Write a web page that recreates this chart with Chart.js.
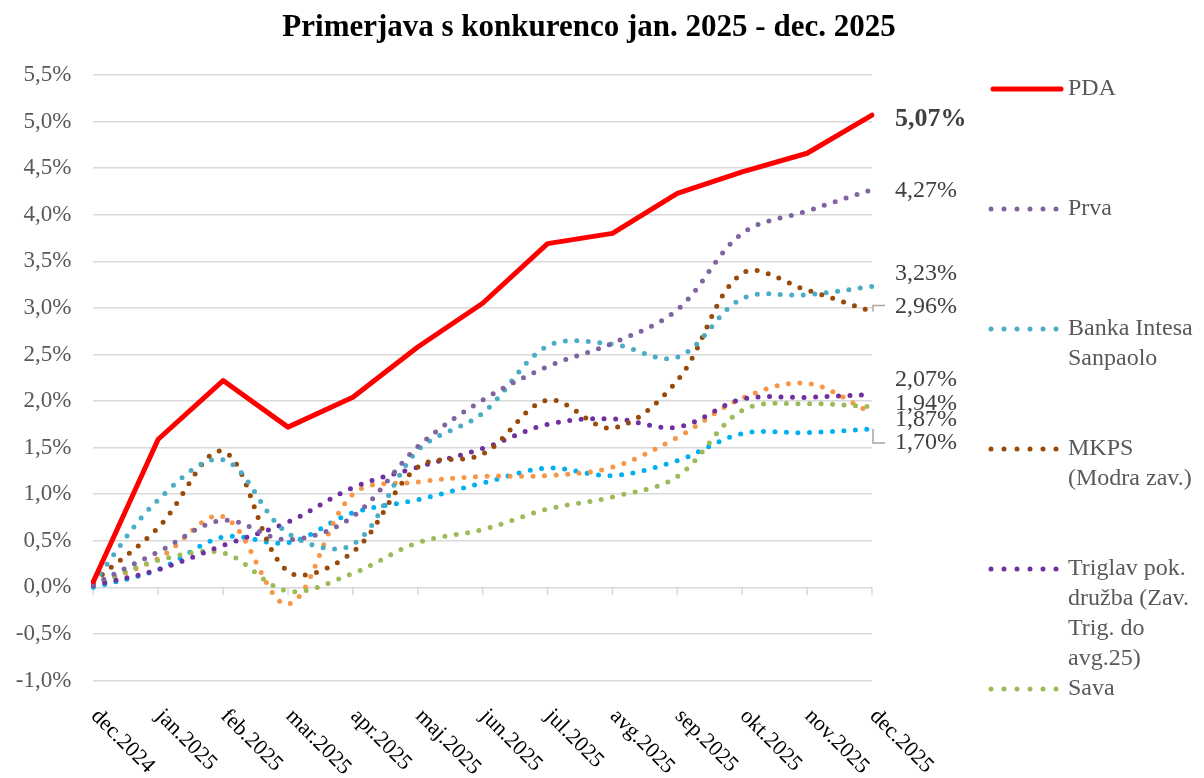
<!DOCTYPE html>
<html>
<head>
<meta charset="utf-8">
<script src="https://cdn.jsdelivr.net/npm/chart.js@4"></script>
<style>
  body { margin: 0; background: #fff; }
  #wrap { width: 1204px; height: 778px; position: relative; }
</style>
</head>
<body>
<div id="wrap"><canvas id="chart"></canvas></div>
<script>
// meseci na osi x
const months = ['dec.2024', 'jan.2025', 'feb.2025', 'mar.2025', 'apr.2025', 'maj.2025', 'jun.2025',
  'jul.2025', 'avg.2025', 'sep.2025', 'okt.2025', 'nov.2025', 'dec.2025'];

// donosi v % (odčitano z grafa)
const pda     = [0.06, 1.59, 2.22, 1.72, 2.04, 2.58, 3.05, 3.69, 3.80, 4.23, 4.46, 4.66, 5.07];
const prva    = [0.03, 0.38, 0.72, 0.51, 0.76, 1.51, 2.01, 2.37, 2.62, 2.98, 3.80, 4.04, 4.27];
const intesa  = [0.05, 0.94, 1.37, 0.58, 0.46, 1.47, 1.87, 2.59, 2.61, 2.47, 3.10, 3.14, 3.23];
const mkps    = [0.06, 0.64, 1.46, 0.17, 0.38, 1.29, 1.43, 2.01, 1.71, 2.22, 3.37, 3.19, 2.96];
const triglav = [0.02, 0.19, 0.45, 0.70, 1.07, 1.29, 1.49, 1.75, 1.81, 1.72, 2.02, 2.04, 2.07];
const sava    = [0.02, 0.29, 0.37, -0.04, 0.15, 0.48, 0.62, 0.84, 0.97, 1.19, 1.90, 1.97, 1.94];
const orange  = [0.02, 0.31, 0.76, -0.18, 1.00, 1.13, 1.19, 1.20, 1.29, 1.61, 2.03, 2.19, 1.87];
const cyan    = [0.00, 0.19, 0.54, 0.48, 0.80, 0.94, 1.12, 1.28, 1.20, 1.36, 1.65, 1.66, 1.70];

const yTicks = { min: -1, max: 5.5, step: 0.5 };

const serif = '"Liberation Serif", "DejaVu Serif", serif';
const fmt = (v, d) => v.toFixed(d).replace('.', ',') + '%';

const dotted = (label, data, color, legendLines) => ({
  label, data, legendLines,
  borderColor: color, backgroundColor: color,
  borderWidth: 5, borderDash: [0, 11.5], borderCapStyle: 'round',
  tension: 0.35, pointRadius: 0, fill: false
});

const datasets = [
  { label: 'PDA', data: pda, legendLines: ['PDA'], borderColor: '#FF0000', backgroundColor: '#FF0000',
    borderWidth: 5, borderCapStyle: 'round', borderJoinStyle: 'round', tension: 0, pointRadius: 0, fill: false },
  dotted('Prva', prva, '#8064A2', ['Prva']),
  dotted('Banka Intesa Sanpaolo', intesa, '#4BACC6', ['Banka Intesa', 'Sanpaolo']),
  dotted('MKPS (Modra zav.)', mkps, '#9A4A08', ['MKPS', '(Modra zav.)']),
  dotted('Triglav pok. družba (Zav. Trig. do avg.25)', triglav, '#7030A0', ['Triglav pok.', 'družba (Zav.', 'Trig. do', 'avg.25)']),
  dotted('Sava', sava, '#9BBB59', ['Sava']),
  dotted('', orange, '#F79646', null),
  dotted('', cyan, '#00B0F0', null)
];

// zamiki oznak končnih vrednosti (v px) po vrstnem redu serij
const endLabelShift = [4, 1, -13, -5, -15, -3, 7, 14];

const decorPlugin = {
  id: 'decor',
  beforeDatasetsDraw(chart) {
    const { ctx, scales: { x, y } } = chart;
    const y0 = y.getPixelForValue(0);
    ctx.save();
    ctx.strokeStyle = '#D9D9D9';
    ctx.lineWidth = 1.5;
    ctx.beginPath();
    months.forEach((m, i) => {
      const px = x.getPixelForValue(i);
      ctx.moveTo(px, y0);
      ctx.lineTo(px, y0 + 8);
    });
    ctx.stroke();
    ctx.restore();
  },
  afterDraw(chart) {
    const { ctx, chartArea, scales: { x, y } } = chart;
    ctx.save();

    // naslov
    ctx.fillStyle = '#000';
    ctx.font = 'bold 31px ' + serif;
    ctx.textAlign = 'center';
    ctx.textBaseline = 'alphabetic';
    ctx.fillText('Primerjava s konkurenco jan. 2025 - dec. 2025', 589, 36);

    // oznake osi x, zasukane za 45°
    ctx.font = '22px ' + serif;
    ctx.textAlign = 'left';
    ctx.textBaseline = 'middle';
    months.forEach((m, i) => {
      const px = x.getPixelForValue(i);
      ctx.save();
      ctx.translate(px + 1, 713);
      ctx.rotate(Math.PI / 4);
      ctx.fillText(m, 0, 0);
      ctx.restore();
    });

    // končne vrednosti
    const last = months.length - 1;
    const xr = x.getPixelForValue(last);
    chart.data.datasets.forEach((ds, i) => {
      const v = ds.data[last];
      const py = y.getPixelForValue(v);
      ctx.font = (i === 0 ? 'bold 26px ' : '24px ') + serif;
      ctx.fillStyle = '#404040';
      ctx.textAlign = 'left';
      ctx.fillText(fmt(v, 2), xr + 23, py + endLabelShift[i]);
    });
    // vodilne črte
    ctx.strokeStyle = '#A6A6A6';
    ctx.lineWidth = 1.5;
    ctx.beginPath();
    let py = y.getPixelForValue(mkps[last]);
    ctx.moveTo(xr + 1, py);
    ctx.lineTo(xr + 1, py - 6);
    ctx.lineTo(xr + 13, py - 6);
    py = y.getPixelForValue(cyan[last]);
    ctx.moveTo(xr + 1, py);
    ctx.lineTo(xr + 1, py + 14);
    ctx.lineTo(xr + 13, py + 14);
    ctx.stroke();

    // legenda
    const lx = chartArea.right + 119;
    let row = 0;
    chart.data.datasets.forEach((ds) => {
      if (!ds.legendLines) return;
      const ly = 89 + row * 120;
      ctx.save();
      ctx.strokeStyle = ds.borderColor;
      ctx.lineCap = 'round';
      if (ds.borderDash) {
        ctx.lineWidth = 5;
        ctx.setLineDash([0, 13]);
        ctx.beginPath();
        ctx.moveTo(lx, ly);
        ctx.lineTo(lx + 66, ly);
      } else {
        ctx.lineWidth = 5;
        ctx.beginPath();
        ctx.moveTo(lx + 2, ly);
        ctx.lineTo(lx + 70, ly);
      }
      ctx.stroke();
      ctx.restore();
      ctx.font = '24px ' + serif;
      ctx.fillStyle = '#595959';
      ctx.textAlign = 'left';
      ctx.textBaseline = 'middle';
      ds.legendLines.forEach((t, k) => ctx.fillText(t, lx + 77, ly + k * 30));
      row++;
    });
    ctx.restore();
  }
};

new Chart(document.getElementById('chart'), {
  type: 'line',
  data: { labels: months, datasets },
  options: {
    responsive: true,
    maintainAspectRatio: false,
    animation: false,
    layout: { padding: { left: 0, right: 332, top: 75, bottom: 0 } },
    plugins: { legend: { display: false }, tooltip: { enabled: false }, title: { display: false } },
    scales: {
      x: {
        grid: { display: false },
        border: { display: false },
        ticks: { display: false },
        afterFit(scale) { scale.height = 97.5; }
      },
      y: {
        min: yTicks.min, max: yTicks.max,
        grid: { color: '#D9D9D9', lineWidth: 1.5, drawTicks: false },
        border: { display: false },
        ticks: {
          stepSize: yTicks.step,
          padding: 22,
          color: '#595959',
          font: { family: serif, size: 23 },
          callback: (v) => fmt(v, 1)
        },
        afterFit(scale) { scale.width = 93.3; }
      }
    }
  },
  plugins: [decorPlugin]
});
</script>
</body>
</html>
